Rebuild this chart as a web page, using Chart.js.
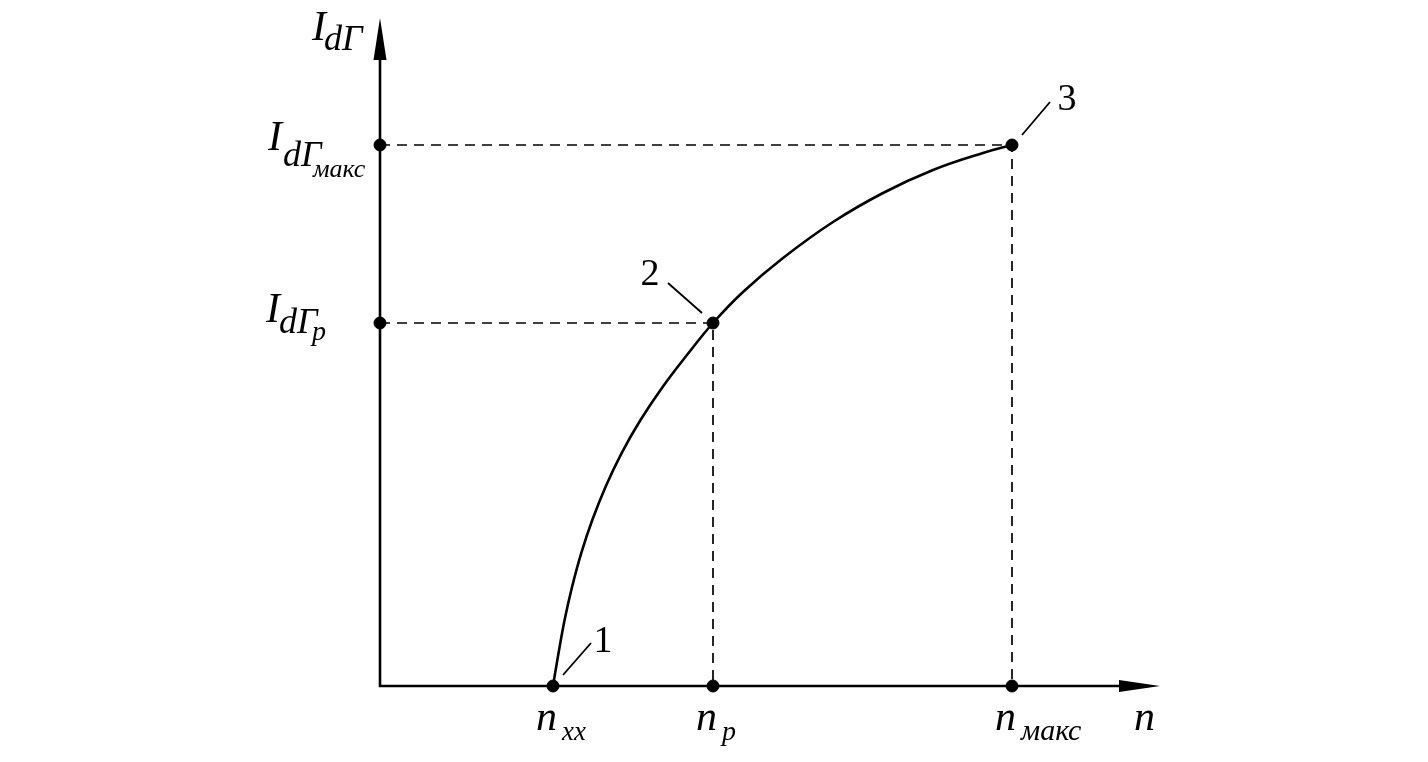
<!DOCTYPE html>
<html>
<head>
<meta charset="utf-8">
<script src="https://cdn.jsdelivr.net/npm/chart.js@4"></script>
<style>
  html, body { margin: 0; padding: 0; background: #fff; }
  #wrap { width: 1428px; height: 762px; position: relative; }
</style>
</head>
<body>
<div id="wrap"><canvas id="myChart"></canvas></div>
<script>
// axis ranges (arbitrary units)
const nAxisMax = 780;
const iAxisMax = 668;

// characteristic points
const nXX = 173, nP = 333, nMax = 632;
const iP = 363, iMax = 541;

// curve I_dГ(n)
const curveN = [173, 178.5, 184.6, 192.1, 201.2, 212.3, 225.6, 241.5, 260.5, 282.8, 308.3, 333, 363, 403, 453, 503, 553, 603, 632];
const curveI = [0, 32.7, 66, 99.3, 132.7, 166, 199.3, 232.7, 266, 299.3, 332.7, 363, 394, 428, 464, 493, 516, 533, 541];

// marked points
const dotN = [0, 0, nXX, nP, nMax, nP, nMax];
const dotI = [iP, iMax, 0, 0, 0, iP, iMax];

// leader lines to the numbers 1, 2, 3
const leaders = [
    [[183, 11], [211, 43]],
    [[322, 373], [288, 403]],
    [[642, 551], [670, 584]]
];
const numberText = ['1', '2', '3'];
const numberPos = [[223, 34], [270, 401], [687, 576]];

function toXY(ns, is) {
    return ns.map((n, i) => ({ x: n, y: is[i] }));
}

const ink = '#000';
const datasets = [];

// axes
datasets.push({
    data: [{ x: 0, y: iAxisMax - 30 }, { x: 0, y: 0 }, { x: nAxisMax - 30, y: 0 }],
    borderColor: ink, borderWidth: 2.6, pointRadius: 0, showLine: true
});
// dashed guides
datasets.push({
    data: [{ x: 0, y: iP }, { x: nP, y: iP }, { x: nP, y: 0 }],
    borderColor: ink, borderWidth: 1.7, borderDash: [10, 7], pointRadius: 0, showLine: true
});
datasets.push({
    data: [{ x: 0, y: iMax }, { x: nMax, y: iMax }, { x: nMax, y: 0 }],
    borderColor: ink, borderWidth: 1.7, borderDash: [10, 7], pointRadius: 0, showLine: true
});
// curve
datasets.push({
    data: toXY(curveN, curveI),
    borderColor: ink, borderWidth: 2.6, pointRadius: 0, showLine: true,
    tension: 0.4
});
// leaders
leaders.forEach(function (seg) {
    datasets.push({
        data: seg.map(p => ({ x: p[0], y: p[1] })),
        borderColor: ink, borderWidth: 1.8, pointRadius: 0, showLine: true
    });
});
// dots
datasets.push({
    data: toXY(dotN, dotI),
    backgroundColor: ink, borderColor: ink, pointRadius: 6, showLine: false
});

const serif = '"Liberation Serif", "DejaVu Serif", serif';

function part(ctx, text, x, y, size, italic) {
    ctx.font = (italic ? 'italic ' : '') + size + 'px ' + serif;
    ctx.fillText(text, x, y);
}

const labelPlugin = {
    id: 'labels',
    afterDatasetsDraw(chart) {
        const ctx = chart.ctx;
        const xs = chart.scales.x, ys = chart.scales.y;
        const x0 = xs.getPixelForValue(0), y0 = ys.getPixelForValue(0);
        const xEnd = xs.getPixelForValue(nAxisMax), yEnd = ys.getPixelForValue(iAxisMax);
        ctx.save();
        ctx.fillStyle = ink;
        // arrow heads
        ctx.beginPath();
        ctx.moveTo(x0, yEnd);
        ctx.lineTo(x0 - 6.5, yEnd + 42);
        ctx.lineTo(x0 + 6.5, yEnd + 42);
        ctx.closePath();
        ctx.fill();
        ctx.beginPath();
        ctx.moveTo(xEnd, y0);
        ctx.lineTo(xEnd - 41, y0 - 6);
        ctx.lineTo(xEnd - 41, y0 + 6);
        ctx.closePath();
        ctx.fill();

        ctx.textBaseline = 'alphabetic';
        ctx.textAlign = 'left';
        // y axis title
        part(ctx, 'I', x0 - 68, yEnd + 22, 42, true);
        part(ctx, 'dΓ', x0 - 56, yEnd + 32, 36, true);
        // I_dГмакс
        const yM = ys.getPixelForValue(iMax);
        part(ctx, 'I', x0 - 112, yM + 5, 42, true);
        part(ctx, 'dΓ', x0 - 97, yM + 21, 36, true);
        part(ctx, 'макс', x0 - 67, yM + 32, 26, true);
        // I_dГp
        const yPp = ys.getPixelForValue(iP);
        part(ctx, 'I', x0 - 114, yPp - 1, 42, true);
        part(ctx, 'dΓ', x0 - 101, yPp + 10, 36, true);
        part(ctx, 'p', x0 - 68, yPp + 17, 28, true);

        // x labels
        const nLabels = [[nXX, 'xx', 27], [nP, 'p', 28], [nMax, 'макс', 30]];
        nLabels.forEach(function (l) {
            const px = xs.getPixelForValue(l[0]);
            part(ctx, 'n', px - 17, y0 + 44, 42, true);
            part(ctx, l[1], px + 9, y0 + 54, l[2], true);
        });
        part(ctx, 'n', xEnd - 26, y0 + 44, 42, true);

        // numbers
        ctx.textAlign = 'center';
        numberText.forEach(function (t, i) {
            part(ctx, t, xs.getPixelForValue(numberPos[i][0]), ys.getPixelForValue(numberPos[i][1]), 38, false);
        });
        ctx.restore();
    }
};

const ctx = document.getElementById('myChart');
const myChart = new Chart(ctx, {
    type: 'scatter',
    data: { datasets: datasets },
    options: {
        responsive: true,
        maintainAspectRatio: false,
        animation: false,
        clip: false,
        layout: { padding: { left: 380, right: 268, top: 18, bottom: 76 } },
        plugins: { legend: { display: false }, tooltip: { enabled: false } },
        scales: {
            x: { type: 'linear', min: 0, max: nAxisMax, display: false },
            y: { type: 'linear', min: 0, max: iAxisMax, display: false }
        }
    },
    plugins: [labelPlugin]
});
</script>
</body>
</html>
